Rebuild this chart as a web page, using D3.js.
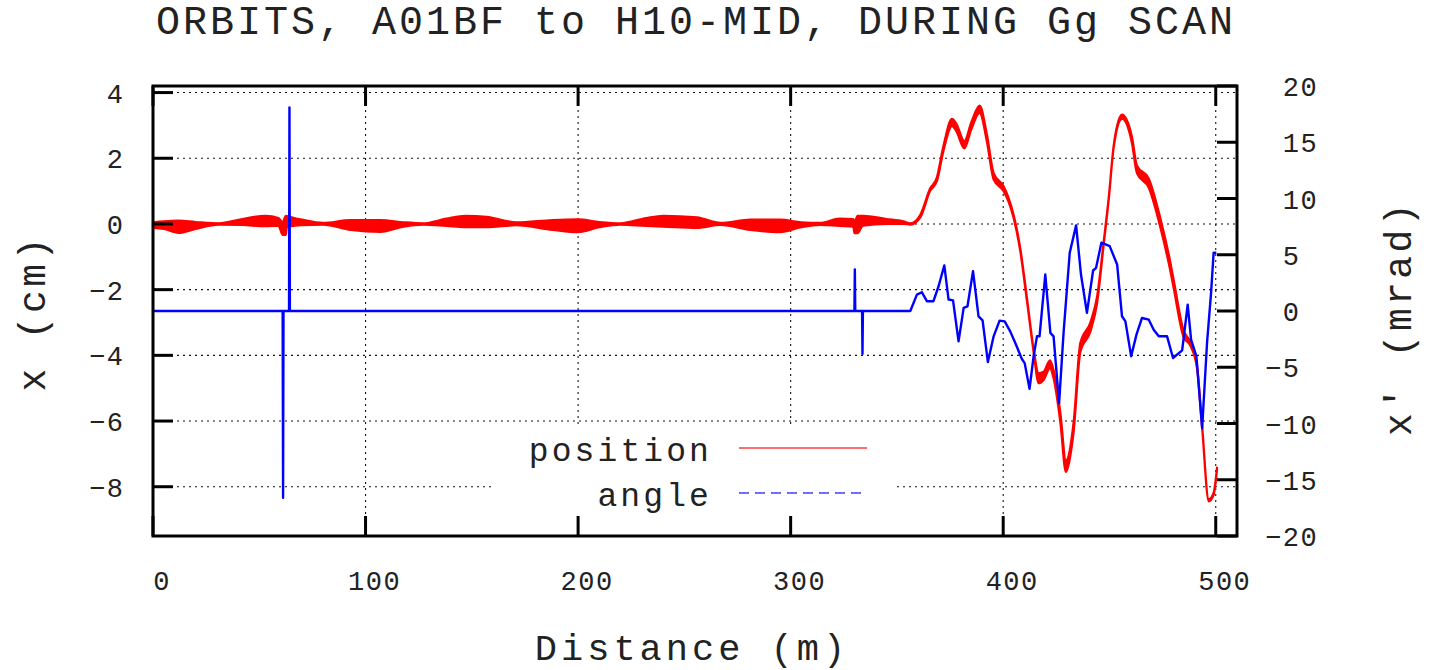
<!DOCTYPE html>
<html lang="en">
<head>
    <meta charset="UTF-8">
    <title>ORBITS, A01BF to H10-MID, DURING Gg SCAN</title>
    <script src="https://d3js.org/d3.v7.min.js"></script>
    <style>
        body { margin: 0; background: #fff; }
        text { font-family: "Liberation Mono", "DejaVu Sans Mono", monospace; fill: #222; }
        .grid { stroke: #111; stroke-width: 1.1; stroke-dasharray: 2,4; fill: none; }
        .frame { stroke: #000; stroke-width: 3; fill: none; }
        .tick { stroke: #000; stroke-width: 3; }
    </style>
</head>
<body>
<script>
// tick values
const xTicks = [0, 100, 200, 300, 400, 500];
const yTicks = [4, 2, 0, -2, -4, -6, -8];
const y2Ticks = [20, 15, 10, 5, 0, -5, -10, -15, -20];

// position (cm): band of overlaid orbits, upper and lower edge
const posDist = [0, 5, 12, 20, 31, 42, 53, 59, 61, 62.5, 63, 70, 80, 93, 107, 118, 127, 138, 147, 157,
    171, 188, 200, 210, 220, 232, 240, 256, 267, 281, 295, 305, 314, 323, 329.5, 330, 331.5, 334, 345, 353,
    356.4, 361, 365.6, 368.8, 371.8, 375.9, 378, 381.7, 385, 388.9, 392.4, 395.5, 400.2, 402.5, 404.9,
    408, 411.2, 414.3, 416.7, 419, 422, 423.7, 426.9, 429.5, 433.1, 436.3, 441, 444.2, 447.3, 449.6,
    452, 455.9, 460.6, 462.9, 468.5, 474, 478.6, 480.2, 484.9, 488, 491.2, 493.6, 496.7, 499, 500.6];
const posHi = [0.05, 0.08, 0.1, 0.06, 0.02, 0.15, 0.25, 0.18, 0.05, 0.25, 0.24, 0.13, 0.03, 0.12, 0.12, 0.05, 0.02, 0.16, 0.25, 0.22,
    0.05, 0.12, 0.14, 0.06, 0.02, 0.18, 0.25, 0.2, 0.03, 0.13, 0.13, 0.05, 0.03, 0.16, 0.15, 0.05, 0.25, 0.25, 0.15, 0.08,
    0.02, 0.28, 1.08, 1.42, 2.35, 3.2, 3.05, 2.52, 3.1, 3.6, 2.7, 1.55, 1.15, 0.8, 0.28,
    -0.72, -2.26, -3.8, -4.55, -4.5, -4.15, -4.45, -5.75, -7.2, -6.05, -3.62, -3.0, -2.2, -0.52, 0.78,
    2.4, 3.33, 2.65, 1.78, 1.38, 0.16, -1.15, -1.7, -3.25, -3.58, -4.32, -6.15, -8.38, -8.18, -7.42];
const posLo = [-0.12, -0.15, -0.27, -0.15, -0.02, -0.03, -0.07, -0.05, -0.33, -0.33, -0.1, -0.04, -0.02, -0.18, -0.24, -0.08, -0.02, -0.06, -0.1, -0.1,
    -0.04, -0.18, -0.25, -0.1, -0.02, -0.06, -0.08, -0.12, -0.03, -0.18, -0.25, -0.1, -0.03, -0.06, -0.08, -0.28, -0.28, -0.05, 0.0, 0.0,
    -0.02, 0.2, 1.0, 1.3, 2.2, 2.98, 2.82, 2.3, 2.88, 3.38, 2.48, 1.35, 1.0, 0.68, 0.18,
    -0.82, -2.36, -3.9, -4.85, -4.75, -4.4, -4.7, -6.05, -7.55, -6.35, -3.9, -3.28, -2.4, -0.62, 0.7,
    2.33, 3.2, 2.45, 1.55, 1.1, -0.12, -1.42, -1.95, -3.45, -3.7, -4.4, -6.22, -8.45, -8.25, -7.48];

// angle (mrad)
const angDist = [0, 61.0, 61.2, 61.4, 64.0, 64.2, 64.4, 330.0, 330.2, 330.4, 333.6, 333.8, 334.0, 356.3,
    359.4, 361.7, 364.1, 367.2, 369.6, 372.3, 374.3, 376.4, 379, 381.4, 383.2, 385.8, 388.4, 390.3, 392.8,
    395.5, 398.3, 400.7, 403.3, 405.7, 408.8, 410.1, 412.4, 414.3, 415.9, 417.1, 419.8, 422.2, 423.7, 426.3,
    428.4, 431.3, 434.3, 436.6, 439.4, 442.3, 443.7, 446.2, 450.1, 453.6, 455.9, 457.5, 460.2, 462.7, 465.3,
    468.5, 470.8, 473.2, 477.1, 479.9, 484.2, 486.8, 488.4, 490.9, 493.6, 495.9, 497.8, 499, 500.3];
const angVal = [0, 0, -16.6, 0, 0, 18.1, 0, 0, 3.7, 0, 0, -3.8, 0, 0,
    1.46, 1.67, 0.87, 0.87, 2.2, 4.05, 1.02, 0.95, -2.7, 0.28, 0.42, 3.54, -0.47, -0.83, -4.54,
    -2.25, -0.86, -0.92, -1.81, -2.85, -4.27, -4.63, -6.92, -4.03, -2.25, -2.25, 3.24, -1.95, -2.25, -8.19,
    -1.95, 5.18, 7.61, 3.24, -0.17, 3.6, 3.84, 6.07, 5.77, 4.14, -0.47, -0.92, -4.03, -2.1, -0.62,
    -0.77, -1.66, -2.25, -2.25, -4.18, -3.5, 0.57, -2.55, -4.03, -10.42, -2.84, 1.61, 5.18, 5.18];

const width = 1434, height = 670;
const margin = {top: 86, right: 197, bottom: 134, left: 153};
const plotL = margin.left, plotR = width - margin.right;
const plotT = margin.top, plotB = height - margin.bottom;

const svg = d3.select("body").append("svg")
    .attr("width", width)
    .attr("height", height);

const x = d3.scaleLinear().domain([0, 510]).range([plotL, plotR]);
const y = d3.scaleLinear().domain([-9.5, 4.2]).range([plotB, plotT]);
const y2 = d3.scaleLinear().domain([-20, 20]).range([plotB, plotT]);

// grid
svg.selectAll(".gx").data(xTicks.filter(d => d > 0)).enter().append("line")
    .attr("class", "grid")
    .attr("x1", d => x(d)).attr("x2", d => x(d))
    .attr("y1", plotT).attr("y2", plotB);
svg.selectAll(".gy").data(yTicks).enter().append("line")
    .attr("class", "grid")
    .attr("x1", plotL).attr("x2", plotR)
    .attr("y1", d => y(d)).attr("y2", d => y(d));

// legend box hides the grid
svg.append("rect")
    .attr("x", 495).attr("y", 424)
    .attr("width", 398).attr("height", 93)
    .attr("fill", "#fff");

// position band
const posData = posDist.map((d, i) => ({s: d, hi: posHi[i], lo: posLo[i]}));
svg.append("path")
    .datum(posData)
    .attr("fill", "#ff0000")
    .attr("stroke", "#ff0000")
    .attr("stroke-width", 2.2)
    .attr("stroke-linejoin", "round")
    .attr("d", d3.area().curve(d3.curveMonotoneX)
        .x(d => x(d.s)).y0(d => y(d.lo)).y1(d => y(d.hi)));

// angle line
const angData = angDist.map((d, i) => ({s: d, v: angVal[i]}));
svg.append("path")
    .datum(angData)
    .attr("fill", "none")
    .attr("stroke", "#0000ff")
    .attr("stroke-width", 2.4)
    .attr("stroke-linejoin", "round")
    .attr("d", d3.line().x(d => x(d.s)).y(d => y2(d.v)));

// frame
svg.append("rect").attr("class", "frame")
    .attr("x", plotL).attr("y", plotT)
    .attr("width", plotR - plotL).attr("height", plotB - plotT);

// ticks
const tl = 20;
svg.selectAll(".tb").data(xTicks).enter().append("line").attr("class", "tick")
    .attr("x1", d => x(d)).attr("x2", d => x(d)).attr("y1", plotB).attr("y2", plotB - tl);
svg.selectAll(".tt").data(xTicks).enter().append("line").attr("class", "tick")
    .attr("x1", d => x(d)).attr("x2", d => x(d)).attr("y1", plotT).attr("y2", plotT + tl);
svg.selectAll(".tl").data(yTicks).enter().append("line").attr("class", "tick")
    .attr("x1", plotL).attr("x2", plotL + tl).attr("y1", d => y(d)).attr("y2", d => y(d));
svg.selectAll(".tr").data(y2Ticks).enter().append("line").attr("class", "tick")
    .attr("x1", plotR - tl).attr("x2", plotR).attr("y1", d => y2(d)).attr("y2", d => y2(d));

// tick labels
const fmt = d => String(d).replace("-", "\u2212");
const tickFont = 27, tickSp = 1.5, charW = tickFont * 0.6 + tickSp;
svg.selectAll(".lx").data(xTicks).enter().append("text")
    .attr("x", d => x(d) + 9).attr("y", 590)
    .attr("text-anchor", "middle")
    .style("font-size", tickFont + "px").style("letter-spacing", tickSp + "px")
    .text(d => d);
svg.selectAll(".ly").data(yTicks).enter().append("text")
    .attr("x", 124.5).attr("y", d => y(d) + 10)
    .attr("text-anchor", "end")
    .style("font-size", tickFont + "px").style("letter-spacing", tickSp + "px")
    .text(fmt);
svg.selectAll(".ly2").data(y2Ticks).enter().append("text")
    .attr("x", d => 1265 + (d >= 0 ? charW : 0)).attr("y", d => y2(d) + 10)
    .attr("text-anchor", "start")
    .style("font-size", tickFont + "px").style("letter-spacing", tickSp + "px")
    .text(fmt);

// title and axis labels
svg.append("text")
    .attr("x", 696).attr("y", 34)
    .attr("text-anchor", "middle")
    .style("font-size", "40px").style("letter-spacing", "3px")
    .text("ORBITS, A01BF to H10-MID, DURING Gg SCAN");
svg.append("text")
    .attr("x", 692).attr("y", 660)
    .attr("text-anchor", "middle")
    .style("font-size", "37px").style("letter-spacing", "4px")
    .text("Distance (m)");
svg.append("text")
    .attr("transform", "translate(45,313) rotate(-90)")
    .attr("text-anchor", "middle")
    .style("font-size", "38px").style("letter-spacing", "3.4px")
    .text("x (cm)");
svg.append("text")
    .attr("transform", "translate(1411,318) rotate(-90)")
    .attr("text-anchor", "middle")
    .style("font-size", "38px").style("letter-spacing", "3.4px")
    .text("x' (mrad)");

// legend
const legend = [
    {name: "position", color: "rgb(255,110,110)", dash: null},
    {name: "angle", color: "rgb(110,110,255)", dash: "10,6"}
];
const lg = svg.selectAll(".lg").data(legend).enter().append("g")
    .attr("transform", (d, i) => "translate(0," + (448 + i * 45) + ")");
lg.append("text")
    .attr("x", 712).attr("y", 13)
    .attr("text-anchor", "end")
    .style("font-size", "33px").style("letter-spacing", "3.1px")
    .text(d => d.name);
lg.append("line")
    .attr("x1", 739).attr("x2", 867).attr("y1", 0).attr("y2", 0)
    .attr("stroke", d => d.color)
    .attr("stroke-width", 2)
    .attr("stroke-dasharray", d => d.dash);
</script>
</body>
</html>
